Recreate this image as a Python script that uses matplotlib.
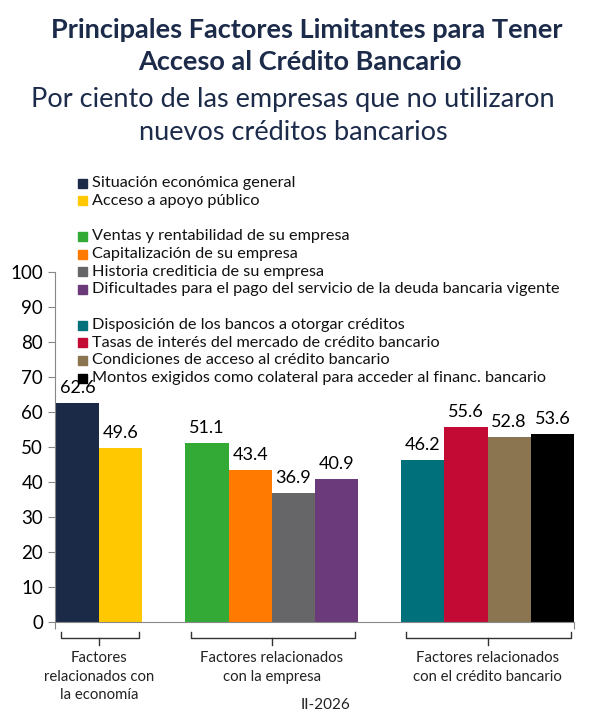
import matplotlib.pyplot as plt
from matplotlib.patches import Rectangle

plt.rcParams['font.family'] = ['Lato', 'DejaVu Sans']

# data
series = ["Situación económica general", "Acceso a apoyo público",
          "Ventas y rentabilidad de su empresa", "Capitalización de su empresa",
          "Historia crediticia de su empresa",
          "Dificultades para el pago del servicio de la deuda bancaria vigente",
          "Disposición de los bancos a otorgar créditos",
          "Tasas de interés del mercado de crédito bancario",
          "Condiciones de acceso al crédito bancario",
          "Montos exigidos como colateral para acceder al financ. bancario"]
values = [62.6, 49.6, 51.1, 43.4, 36.9, 40.9, 46.2, 55.6, 52.8, 53.6]
colors = ["#1B2A47", "#FFC800", "#33AA36", "#FF7A00", "#666669", "#6B3A7A",
          "#00717A", "#C20A35", "#8A7550", "#000000"]
groups = ["Factores\nrelacionados con\nla economía",
          "Factores relacionados\ncon la empresa",
          "Factores relacionados\ncon el crédito bancario"]
group_sizes = [2, 4, 4]
period = "II-2026"

W, H = 592, 715
fig = plt.figure(figsize=(W / 100, H / 100), dpi=100)

def fy(px):
    return 1 - px / H

ax = fig.add_axes([55 / W, fy(622), (574 - 55) / W, (622 - 272) / H])

# bar slots: one empty slot between groups
xs = []
slot = 0
bounds = []
for n in group_sizes:
    bounds.append((slot, slot + n))
    for i in range(n):
        xs.append(slot + i + 0.5)
    slot += n + 1
slot -= 1

ax.bar(xs, values, width=1.0, color=colors)
for x, v in zip(xs, values):
    ax.text(x, v + 4.3, f"{v:.1f}", ha="center", va="center", fontsize=13)

ax.set_xlim(-0.02, slot)
ax.set_ylim(0, 100)
ax.set_yticks(range(0, 101, 10))
ax.tick_params(axis="y", labelsize=13.5, length=5, color="#888888", direction="out")
ax.set_xticks([-0.02, slot])
ax.set_xticklabels([])
ax.tick_params(axis="x", length=5, color="#888888", direction="out")
for s in ["top", "right"]:
    ax.spines[s].set_visible(False)
ax.spines["left"].set_color("#888888")
ax.spines["bottom"].set_color("#888888")

# group brackets and labels
for (s, e), lab in zip(bounds, groups):
    l, r, c = s + 0.12, e - 0.08, (s + e) / 2
    ax.plot([l, l, r, r], [-2.9, -4.6, -4.6, -2.9], color="#333333", lw=1, clip_on=False)
    ax.plot([c, c], [-4.6, -6.6], color="#333333", lw=1, clip_on=False)
    ax.text(c, -8.4, lab, ha="center", va="top", fontsize=10.7, linespacing=1.4, color="#222222")

fig.text(325 / W, fy(705), period, ha="center", va="center", fontsize=11, color="#222222")

# legend
row = 0
k = 0
for n in group_sizes:
    for i in range(n):
        y = 183 + row * 17.75
        fig.patches.append(Rectangle((78 / W, fy(y + 4.5)), 9 / W, 9 / H,
                                     transform=fig.transFigure, color=colors[k]))
        fig.text(92 / W, fy(y), series[k], ha="left", va="center", fontsize=11.7, color="#111111")
        row += 1
        k += 1
    row += 1

# titles
navy = "#1C2B4A"
fig.text(307 / W, fy(30), "Principales Factores Limitantes para Tener", ha="center", va="center",
         fontsize=19.5, fontweight="bold", color=navy)
fig.text(300 / W, fy(62), "Acceso al Crédito Bancario", ha="center", va="center",
         fontsize=19.5, fontweight="bold", color=navy)
fig.text(293 / W, fy(100), "Por ciento de las empresas que no utilizaron", ha="center", va="center",
         fontsize=19.5, color=navy)
fig.text(293 / W, fy(133), "nuevos créditos bancarios", ha="center", va="center",
         fontsize=19.5, color=navy)

fig.savefig("out.png", dpi=100)
